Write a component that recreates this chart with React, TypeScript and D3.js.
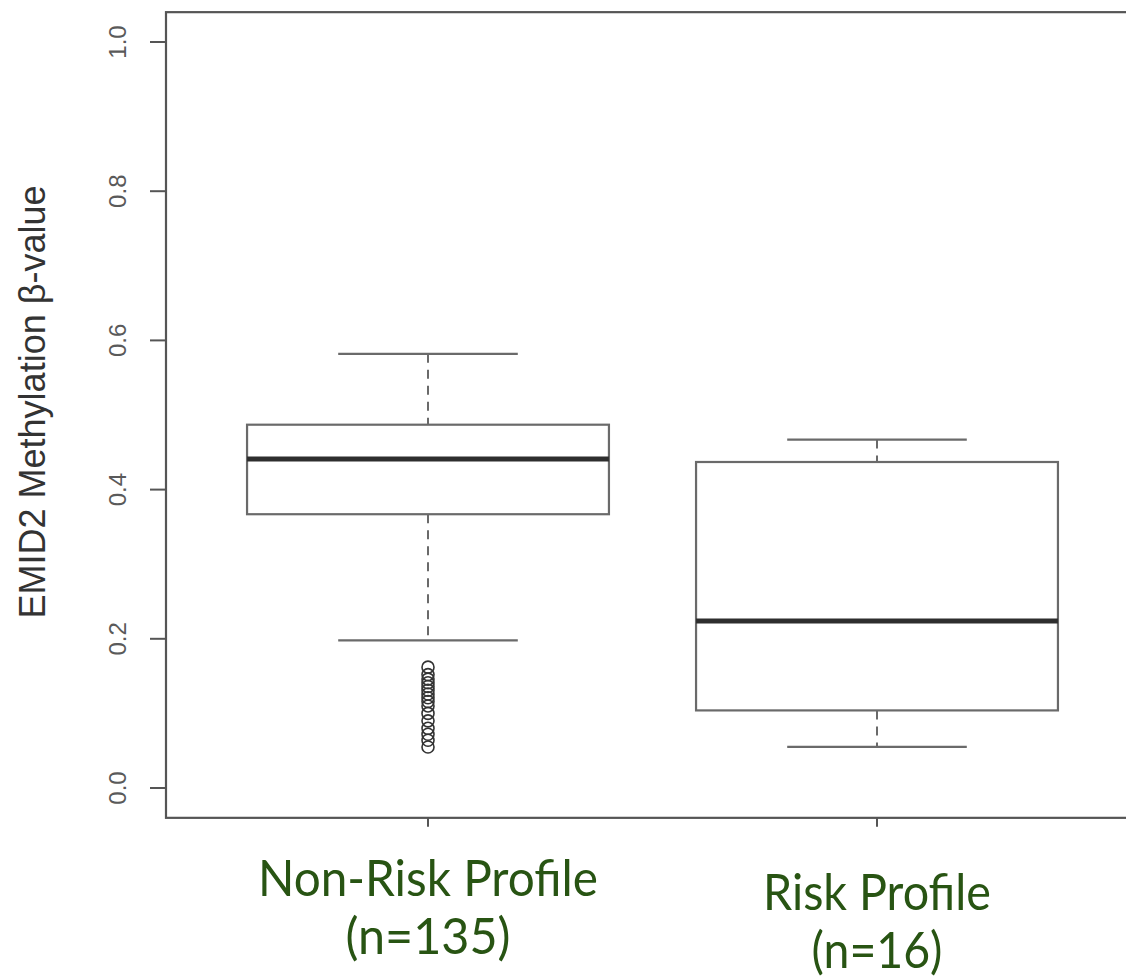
import React, {useEffect, useRef} from 'react';
import * as d3 from 'd3';

// group labels under the x axis
const groups = ['Non-Risk Profile', 'Risk Profile'];
const groupCounts = ['(n=135)', '(n=16)'];

// five-number summaries
const whiskerLow = [0.198, 0.055];
const q1 = [0.367, 0.104];
const medians = [0.441, 0.224];
const q3 = [0.487, 0.437];
const whiskerHigh = [0.582, 0.467];

// outliers below the lower whisker (non-risk group only)
const outliersNonRisk = [0.162, 0.152, 0.146, 0.141, 0.136, 0.131, 0.126, 0.121, 0.116, 0.11, 0.1, 0.09, 0.08, 0.072, 0.064, 0.055];
const outliersRisk: number[] = [];

const yTicks = [0, 0.2, 0.4, 0.6, 0.8, 1.0];
const yTitle = 'EMID2 Methylation \u03b2-value';

const App = () => {
    const ref = useRef<SVGSVGElement>(null);

    useEffect(() => {
        const svg = d3.select(ref.current);
        svg.selectAll('*').remove();

        const yScale = d3.scaleLinear().domain([0, 1]).range([788, 42]);
        const xScale = d3.scaleLinear().domain([1, 2]).range([428, 877]);

        const frameTop = yScale(1.04);
        const frameBottom = yScale(-0.04);
        const frameLeft = 166;
        const frameRight = 1140;
        const frameColor = '#555';
        const boxColor = '#6a6a6a';
        const boxHalf = 0.403; // in x units
        const capHalf = 0.2;

        // plot frame
        svg.append('rect')
            .attr('x', frameLeft)
            .attr('y', frameTop)
            .attr('width', frameRight - frameLeft)
            .attr('height', frameBottom - frameTop)
            .attr('fill', 'none')
            .attr('stroke', frameColor)
            .attr('stroke-width', 2.2);

        // y axis ticks + labels (R style, rotated)
        const yAxis = svg.append('g');
        yAxis.selectAll('line')
            .data(yTicks)
            .enter()
            .append('line')
            .attr('x1', 150)
            .attr('x2', frameLeft)
            .attr('y1', (d) => yScale(d))
            .attr('y2', (d) => yScale(d))
            .attr('stroke', frameColor)
            .attr('stroke-width', 2);
        yAxis.selectAll('text')
            .data(yTicks)
            .enter()
            .append('text')
            .attr('transform', (d) => `translate(126, ${yScale(d)}) rotate(-90)`)
            .attr('text-anchor', 'middle')
            .attr('font-family', '"Liberation Sans", Arial, sans-serif')
            .attr('font-size', 24)
            .attr('fill', '#5a5a5a')
            .text((d) => d3.format('.1f')(d));

        // y axis title
        svg.append('text')
            .attr('transform', `translate(45, 402) rotate(-90)`)
            .attr('text-anchor', 'middle')
            .attr('font-family', '"Liberation Sans", Arial, sans-serif')
            .attr('font-size', 36)
            .attr('fill', '#333')
            .text(yTitle);

        // x ticks
        svg.selectAll('.xtick')
            .data(groups)
            .enter()
            .append('line')
            .attr('x1', (d, i) => xScale(i + 1))
            .attr('x2', (d, i) => xScale(i + 1))
            .attr('y1', frameBottom)
            .attr('y2', frameBottom + 9)
            .attr('stroke', frameColor)
            .attr('stroke-width', 2);

        // boxes
        groups.forEach((g, i) => {
            const cx = xScale(i + 1);
            const left = xScale(i + 1 - boxHalf);
            const right = xScale(i + 1 + boxHalf);
            const capL = xScale(i + 1 - capHalf);
            const capR = xScale(i + 1 + capHalf);
            const box = svg.append('g');

            // dashed whiskers
            box.append('line')
                .attr('x1', cx).attr('x2', cx)
                .attr('y1', yScale(whiskerHigh[i])).attr('y2', yScale(q3[i]))
                .attr('stroke', boxColor).attr('stroke-width', 2)
                .attr('stroke-dasharray', '9,7');
            box.append('line')
                .attr('x1', cx).attr('x2', cx)
                .attr('y1', yScale(q1[i])).attr('y2', yScale(whiskerLow[i]))
                .attr('stroke', boxColor).attr('stroke-width', 2)
                .attr('stroke-dasharray', '9,7');

            // caps
            [whiskerHigh[i], whiskerLow[i]].forEach((v) => {
                box.append('line')
                    .attr('x1', capL).attr('x2', capR)
                    .attr('y1', yScale(v)).attr('y2', yScale(v))
                    .attr('stroke', boxColor).attr('stroke-width', 2.2);
            });

            box.append('rect')
                .attr('x', left)
                .attr('y', yScale(q3[i]))
                .attr('width', right - left)
                .attr('height', yScale(q1[i]) - yScale(q3[i]))
                .attr('fill', 'none')
                .attr('stroke', boxColor)
                .attr('stroke-width', 2.2);

            box.append('line')
                .attr('x1', left).attr('x2', right)
                .attr('y1', yScale(medians[i])).attr('y2', yScale(medians[i]))
                .attr('stroke', '#2e2e2e').attr('stroke-width', 5);

            const outs = i === 0 ? outliersNonRisk : outliersRisk;
            box.selectAll('circle')
                .data(outs)
                .enter()
                .append('circle')
                .attr('cx', cx)
                .attr('cy', (d) => yScale(d))
                .attr('r', 6)
                .attr('fill', 'none')
                .attr('stroke', '#333')
                .attr('stroke-width', 1.6);
        });

        // group labels (green, added outside the R plot)
        const green = '#285413';
        const nameY = [896, 910];
        const countY = [954, 968];
        const nameW = [340, 228];
        const countW = [165, 131];
        groups.forEach((g, i) => {
            svg.append('text')
                .attr('x', xScale(i + 1))
                .attr('y', nameY[i])
                .attr('text-anchor', 'middle')
                .attr('font-family', 'Lato, "Noto Sans", sans-serif')
                .attr('font-size', 50)
                .attr('textLength', nameW[i])
                .attr('lengthAdjust', 'spacingAndGlyphs')
                .attr('fill', green)
                .text(g);
            svg.append('text')
                .attr('x', xScale(i + 1))
                .attr('y', countY[i])
                .attr('text-anchor', 'middle')
                .attr('font-family', 'Lato, "Noto Sans", sans-serif')
                .attr('font-size', 50)
                .attr('textLength', countW[i])
                .attr('lengthAdjust', 'spacingAndGlyphs')
                .attr('fill', green)
                .text(groupCounts[i]);
        });
    }, []);

    return (
        <svg
            ref={ref}
            width={1126}
            height={980}
            style={{position: 'absolute', left: 0, top: 0, background: '#fff'}}
        />
    );
};

export default App;
